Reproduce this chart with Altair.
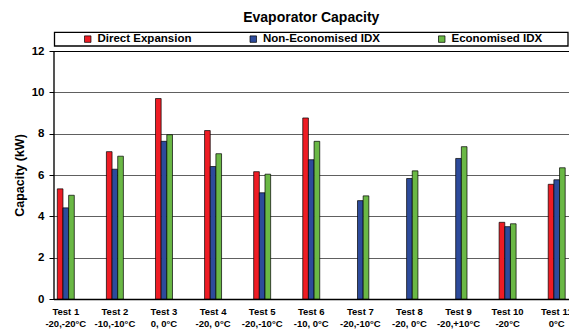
import altair as alt
import pandas as pd

# Test conditions (evaporating / condensing temperatures)
tests = ["Test 1", "Test 2", "Test 3", "Test 4", "Test 5", "Test 6",
         "Test 7", "Test 8", "Test 9", "Test 10", "Test 11"]
conditions = ["-20,-20°C", "-10,-10°C", "0, 0°C", "-20, 0°C", "-20,-10°C",
              "-10, 0°C", "-20,-10°C", "-20, 0°C", "-20,+10°C", "-20°C", "0°C"]

series = ["Direct Expansion", "Non-Economised IDX", "Economised IDX"]
colors = ["#EE1C24", "#2D4B9B", "#6AB845"]

# Evaporator capacity in kW (None = not tested)
direct_expansion = [5.33, 7.13, 9.70, 8.15, 6.16, 8.76, None, None, None, 3.71, 5.55]
non_economised = [4.41, 6.28, 7.63, 6.41, 5.14, 6.74, 4.76, 5.83, 6.80, 3.50, 5.77]
economised = [5.02, 6.91, 7.95, 7.03, 6.04, 7.63, 4.99, 6.20, 7.37, 3.64, 6.35]

y_ticks = [0, 2, 4, 6, 8, 10, 12]

FONT = "Liberation Sans"

categories = [f"{t}\n{c}" for t, c in zip(tests, conditions)]
rows = []
for name, vals in zip(series, [direct_expansion, non_economised, economised]):
    for cat, v in zip(categories, vals):
        if v is not None:
            rows.append({"test": cat, "series": name, "capacity": v})
df = pd.DataFrame(rows)

bars = alt.Chart(df).mark_bar(stroke="black", strokeWidth=0.7).encode(
    x=alt.X(
        "test:N",
        sort=categories,
        scale=alt.Scale(domain=categories, paddingInner=0.654, paddingOuter=0.0775),
        axis=alt.Axis(
            title=None,
            labelExpr="split(datum.label, '\\n')",
            labelAngle=0,
            labelFont=FONT,
            labelFontSize=9.5,
            labelFontWeight="bold",
            labelColor="black",
            labelLineHeight=12.6,
            labelPadding=7,
            tickSize=0,
            domainColor="black",
            domainWidth=1.3,
            labelLimit=0,
        ),
    ),
    xOffset=alt.XOffset(
        "series:N",
        sort=series,
        scale=alt.Scale(domain=series, paddingInner=0, paddingOuter=0),
    ),
    y=alt.Y(
        "capacity:Q",
        scale=alt.Scale(domain=[0, 12], nice=False),
        axis=alt.Axis(
            title="Capacity (kW)",
            values=y_ticks,
            titleFont=FONT,
            titleFontSize=12.5,
            titleFontWeight="bold",
            titleColor="black",
            titleAngle=270,
            titleBaseline="middle",
            titleAlign="center",
            titleX=-34.5,
            titleY=124,
            labelFont=FONT,
            labelFontSize=11.5,
            labelFontWeight="bold",
            labelColor="black",
            labelPadding=5,
            tickSize=4.5,
            tickColor="black",
            domainColor="black",
            domainWidth=1.3,
            grid=True,
            gridColor={"condition": {"test": "datum.value === 12", "value": "black"},
                       "value": "#606060"},
            gridWidth=1.2,
        ),
    ),
    color=alt.Color(
        "series:N",
        scale=alt.Scale(domain=series, range=colors),
        legend=alt.Legend(
            title=None,
            orient="none",
            direction="horizontal",
            legendX=28.5,
            legendY=-18,
            padding=0,
            symbolType="square",
            symbolSize=42,
            symbolStrokeColor="black",
            symbolStrokeWidth=0.7,
            symbolOpacity=1,
            labelFont=FONT,
            labelFontSize=11.5,
            labelFontWeight="bold",
            labelColor="black",
            labelOffset=4,
            columnPadding=55.5,
            labelLimit=0,
        ),
    ),
)

# Frame around the legend row
frame = alt.Chart(pd.DataFrame({"k": [0]})).mark_rect(
    fill="transparent", stroke="black", strokeWidth=1.3
).encode(
    x=alt.value(1),
    x2=alt.value(514.5),
    y=alt.value(-18.7),
    y2=alt.value(-5),
)

chart = alt.layer(bars, frame).properties(
    width=515.5,
    height=248,
    title=alt.TitleParams(
        "Evaporator Capacity",
        font=FONT,
        fontSize=14,
        fontWeight="bold",
        color="black",
        anchor="middle",
        offset=7,
    ),
    autosize=alt.AutoSizeParams(type="none"),
    padding={"left": 53.5, "top": 51, "right": 0, "bottom": 31},
).configure_view(
    stroke=None
).configure(background="white")

chart.save("out.html", embed_options={"renderer": "svg", "actions": False})
